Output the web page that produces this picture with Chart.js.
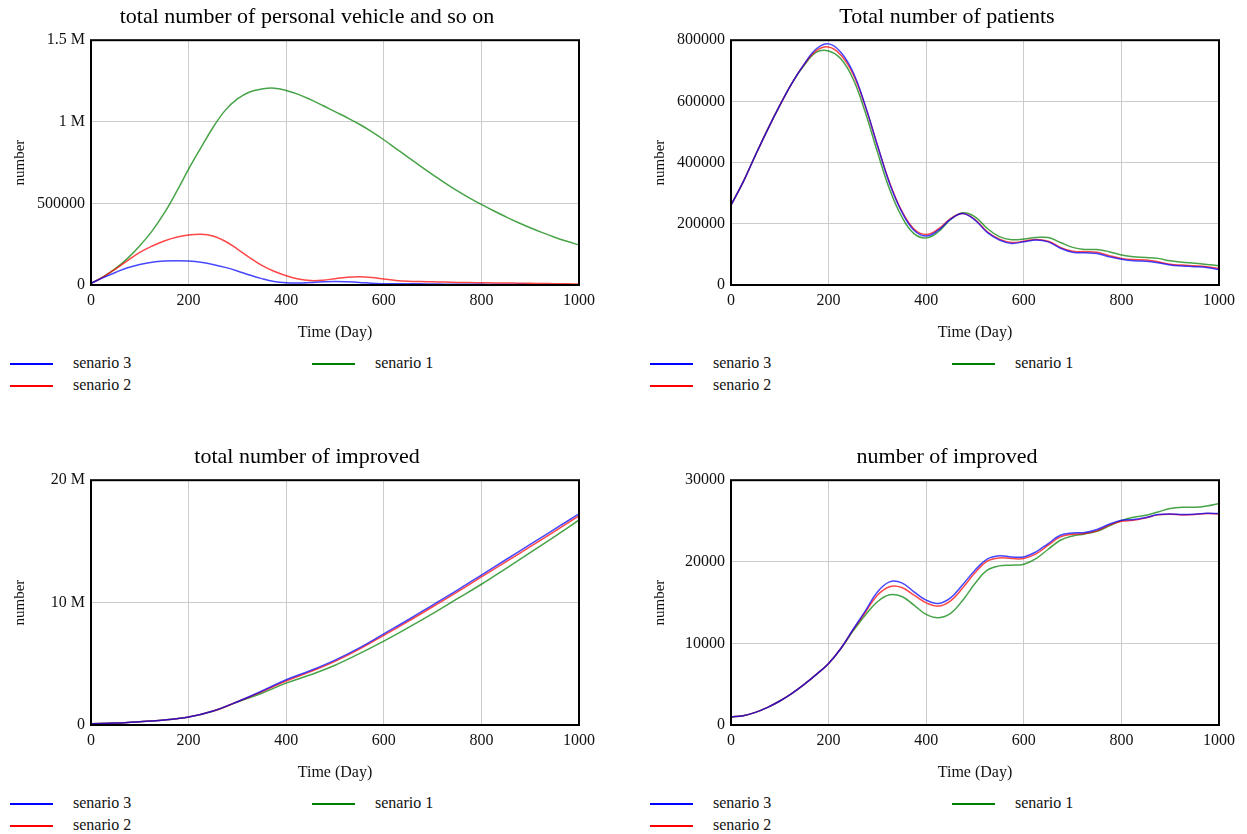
<!DOCTYPE html>
<html><head><meta charset="utf-8">
<script src="https://cdn.jsdelivr.net/npm/chart.js@4.4.1/dist/chart.umd.min.js"></script>
<style>
html,body{margin:0;padding:0;background:#fff;width:1247px;height:834px;overflow:hidden;position:relative;}
.wrap{position:absolute;width:614px;height:345px;}
.leg{position:absolute;font-family:"Liberation Serif",serif;font-size:16px;color:#111;}
.leg .ln{position:absolute;width:43px;height:2px;}
.leg .tx{position:absolute;white-space:nowrap;line-height:20px;}
</style></head><body>
<div class="wrap" style="left:0;top:0"><canvas id="c1" width="614" height="345"></canvas></div>
<div class="wrap" style="left:640px;top:0"><canvas id="c2" width="614" height="345"></canvas></div>
<div class="wrap" style="left:0;top:440px"><canvas id="c3" width="614" height="345"></canvas></div>
<div class="wrap" style="left:640px;top:440px"><canvas id="c4" width="614" height="345"></canvas></div>
<div id="legends"></div>
<script>
// ---------- data ----------
const days25 = [0,25,50,75,100,125,150,175,200,225,250,275,300,325,350,375,400,425,450,475,500,525,550,575,600,625,650,675,700,725,750,775,800,825,850,875,900,925,950,975,1000];
const days50 = [0,50,100,150,200,250,300,350,400,450,500,550,600,650,700,750,800,850,900,950,1000];

const seriesNames = ['senario 3','senario 2','senario 1'];
const seriesColors = ['#0000ff','#ff0000','#008000'];
const lineColors = ['rgba(0,0,255,0.72)','rgba(255,0,0,0.72)','rgba(0,128,0,0.72)'];

const titles = ['total number of personal vehicle and so on','Total number of patients','total number of improved','number of improved'];
const xTitle = 'Time (Day)';
const yTitle = 'number';

// chart 1: total number of personal vehicle and so on
const vehicleTicks = ['0','500000','1 M','1.5 M'];
const vehicleS3 = [10000,45000,77000,106000,126000,140000,147000,149000,147000,140000,126000,108000,86000,61000,39000,22000,14000,12000,16000,20000,22000,20000,16000,10000,8000,8000,7000,7000,6000,5000,5000,4000,4000,3000,3000,3000,2000,2000,2000,2000,2000];
const vehicleS2 = [10000,49000,98000,150000,200000,238000,270000,293000,306000,311000,300000,268000,220000,168000,120000,84000,57000,37000,27000,29000,39000,47000,50000,46000,37000,28000,23000,21000,20000,18000,16000,15000,14000,13000,12000,11000,10000,9000,8000,7000,6000];
const vehicleS1 = [10000,50000,100000,163000,240000,330000,440000,570000,710000,840000,965000,1070000,1140000,1183000,1201000,1206000,1192000,1168000,1136000,1100000,1062000,1025000,985000,940000,890000,836000,782000,729000,677000,626000,578000,534000,494000,455000,418000,383000,351000,321000,293000,268000,245000];

// chart 2: Total number of patients
const patientTicks = ['0','200000','400000','600000','800000'];
const patientS3 = [261000,337000,424000,508000,587000,660000,722000,772000,788000,761000,696000,587000,457000,332000,239000,179000,160000,179000,215000,234000,212000,172000,147000,136000,141000,147000,141000,120000,107000,105000,103000,92000,84000,79000,78000,73000,65000,62000,60000,57000,51000];
const patientS2 = [261000,337000,424000,508000,587000,660000,721000,766000,778000,752000,690000,585000,457000,335000,242000,183000,165000,183000,217000,234000,214000,174000,150000,139000,143000,149000,143000,123000,110000,109000,107000,96000,87000,83000,82000,76000,68000,65000,63000,60000,54000];
const patientS1 = [261000,337000,424000,508000,587000,660000,718000,761000,765000,739000,674000,565000,435000,313000,223000,168000,154000,174000,214000,236000,223000,185000,158000,148000,150000,155000,155000,139000,123000,116000,116000,109000,98000,92000,90000,87000,79000,74000,71000,67000,63000];

// chart 3: total number of improved (step 50)
const totalImpTicks = ['0','10 M','20 M'];
const totalImpS3 = [110000,160000,270000,410000,650000,1140000,1900000,2780000,3700000,4450000,5300000,6300000,7450000,8600000,9800000,11000000,12250000,13500000,14750000,16000000,17250000];
const totalImpS2 = [110000,160000,270000,410000,650000,1140000,1900000,2720000,3600000,4360000,5200000,6200000,7330000,8470000,9660000,10860000,12100000,13330000,14570000,15820000,17080000];
const totalImpS1 = [110000,160000,270000,410000,650000,1130000,1880000,2600000,3420000,4100000,4880000,5830000,6850000,7950000,9100000,10300000,11500000,12780000,14080000,15400000,16750000];

// chart 4: number of improved
const impTicks = ['0','10000','20000','30000'];
const impS3 = [980,1140,1550,2160,2940,3880,4980,6200,7550,9380,11700,13950,16300,17540,17420,16320,15300,14900,15590,17220,18970,20320,20730,20600,20600,21220,22240,23260,23540,23580,23950,24600,25090,25170,25420,25790,25870,25790,25830,25950,25910];
const impS2 = [980,1140,1550,2160,2940,3880,4980,6200,7550,9380,11650,13790,15910,16950,16850,15910,14970,14570,15220,16810,18650,20070,20480,20400,20400,20970,22030,23050,23380,23460,23790,24480,24970,25090,25380,25750,25830,25750,25790,25910,25870];
const impS1 = [980,1140,1550,2160,2940,3880,4980,6200,7550,9350,11500,13460,15100,15950,15750,14690,13550,13140,13670,15300,17340,18970,19500,19580,19710,20400,21540,22640,23170,23420,23750,24400,25050,25460,25700,26110,26520,26680,26680,26850,27150];

// ---------- rendering ----------
Chart.defaults.font.family = '"Liberation Serif", "Times New Roman", serif';
Chart.defaults.color = '#111';

const framePlugin = {
  id: 'frame',
  afterDatasetsDraw(chart) {
    const {ctx, chartArea: a} = chart;
    ctx.save();
    ctx.strokeStyle = '#000';
    ctx.lineWidth = 2;
    ctx.strokeRect(a.left, a.top, a.right - a.left, a.bottom - a.top);
    ctx.restore();
  }
};

function makeChart(id, title, days, seriesList, yMax, yStep, tickLabels) {
  const datasets = seriesList.map((vals, i) => ({
    label: seriesNames[i],
    data: days.map((d, k) => ({x: d, y: vals[k]})),
    borderColor: lineColors[i],
    borderWidth: 1.5,
    pointRadius: 0,
    fill: false,
    tension: 0.4
  }));
  new Chart(document.getElementById(id), {
    type: 'line',
    data: {datasets},
    options: {
      responsive: false,
      animation: false,
      layout: {padding: 0},
      plugins: {
        legend: {display: false},
        tooltip: {enabled: false},
        title: {
          display: true, text: title, color: '#000',
          font: {size: 22, weight: 'normal'},
          padding: {top: 3.8, bottom: 10}
        }
      },
      scales: {
        x: {
          type: 'linear', min: 0, max: 1000,
          ticks: {stepSize: 200, padding: 6, font: {size: 16}, color: '#111', maxRotation: 0,
                  callback: v => String(v)},
          grid: {color: '#cccccc', lineWidth: 1, drawTicks: false},
          border: {display: false},
          title: {display: true, text: xTitle, font: {size: 16}, color: '#111', padding: {top: 0, bottom: 2.4}},
          afterFit: s => { s.height = 60; }
        },
        y: {
          type: 'linear', position: 'left', min: 0, max: yMax,
          ticks: {stepSize: yStep, padding: 6, font: {size: 16}, color: '#111',
                  callback: v => tickLabels[Math.round(v / yStep)]},
          grid: {color: '#cccccc', lineWidth: 1, drawTicks: false},
          border: {display: false},
          title: {display: true, text: yTitle, font: {size: 15}, color: '#111', padding: {top: 11, bottom: 0}},
          afterFit: s => { s.width = 91; }
        },
        yR: {
          type: 'linear', position: 'right', min: 0, max: 1, display: true,
          ticks: {display: false}, grid: {display: false, drawTicks: false}, border: {display: false},
          afterFit: s => { s.width = 35; }
        }
      }
    },
    plugins: [framePlugin]
  });
}

makeChart('c1', titles[0], days25, [vehicleS3, vehicleS2, vehicleS1], 1500000, 500000, vehicleTicks);
makeChart('c2', titles[1], days25, [patientS3, patientS2, patientS1], 800000, 200000, patientTicks);
makeChart('c3', titles[2], days50, [totalImpS3, totalImpS2, totalImpS1], 20000000, 10000000, totalImpTicks);
makeChart('c4', titles[3], days25, [impS3, impS2, impS1], 30000, 10000, impTicks);

// HTML legends (column layout: senario 3 / senario 2 in first column, senario 1 in second)
const legendOrigins = [[0,0],[640,0],[0,440],[640,440]];
const legendSlots = [[10,364],[10,386],[312,364]];
const host = document.getElementById('legends');
legendOrigins.forEach(([ox, oy]) => {
  seriesNames.forEach((name, i) => {
    const [lx, ly] = legendSlots[i];
    const g = document.createElement('div');
    g.className = 'leg';
    g.style.left = (ox + lx) + 'px';
    g.style.top = (oy + ly) + 'px';
    g.innerHTML = '<div class="ln" style="left:0;top:-1px;background:' + seriesColors[i] + '"></div>' +
                  '<div class="tx" style="left:63px;top:-11px">' + name + '</div>';
    host.appendChild(g);
  });
});
</script>
</body></html>
